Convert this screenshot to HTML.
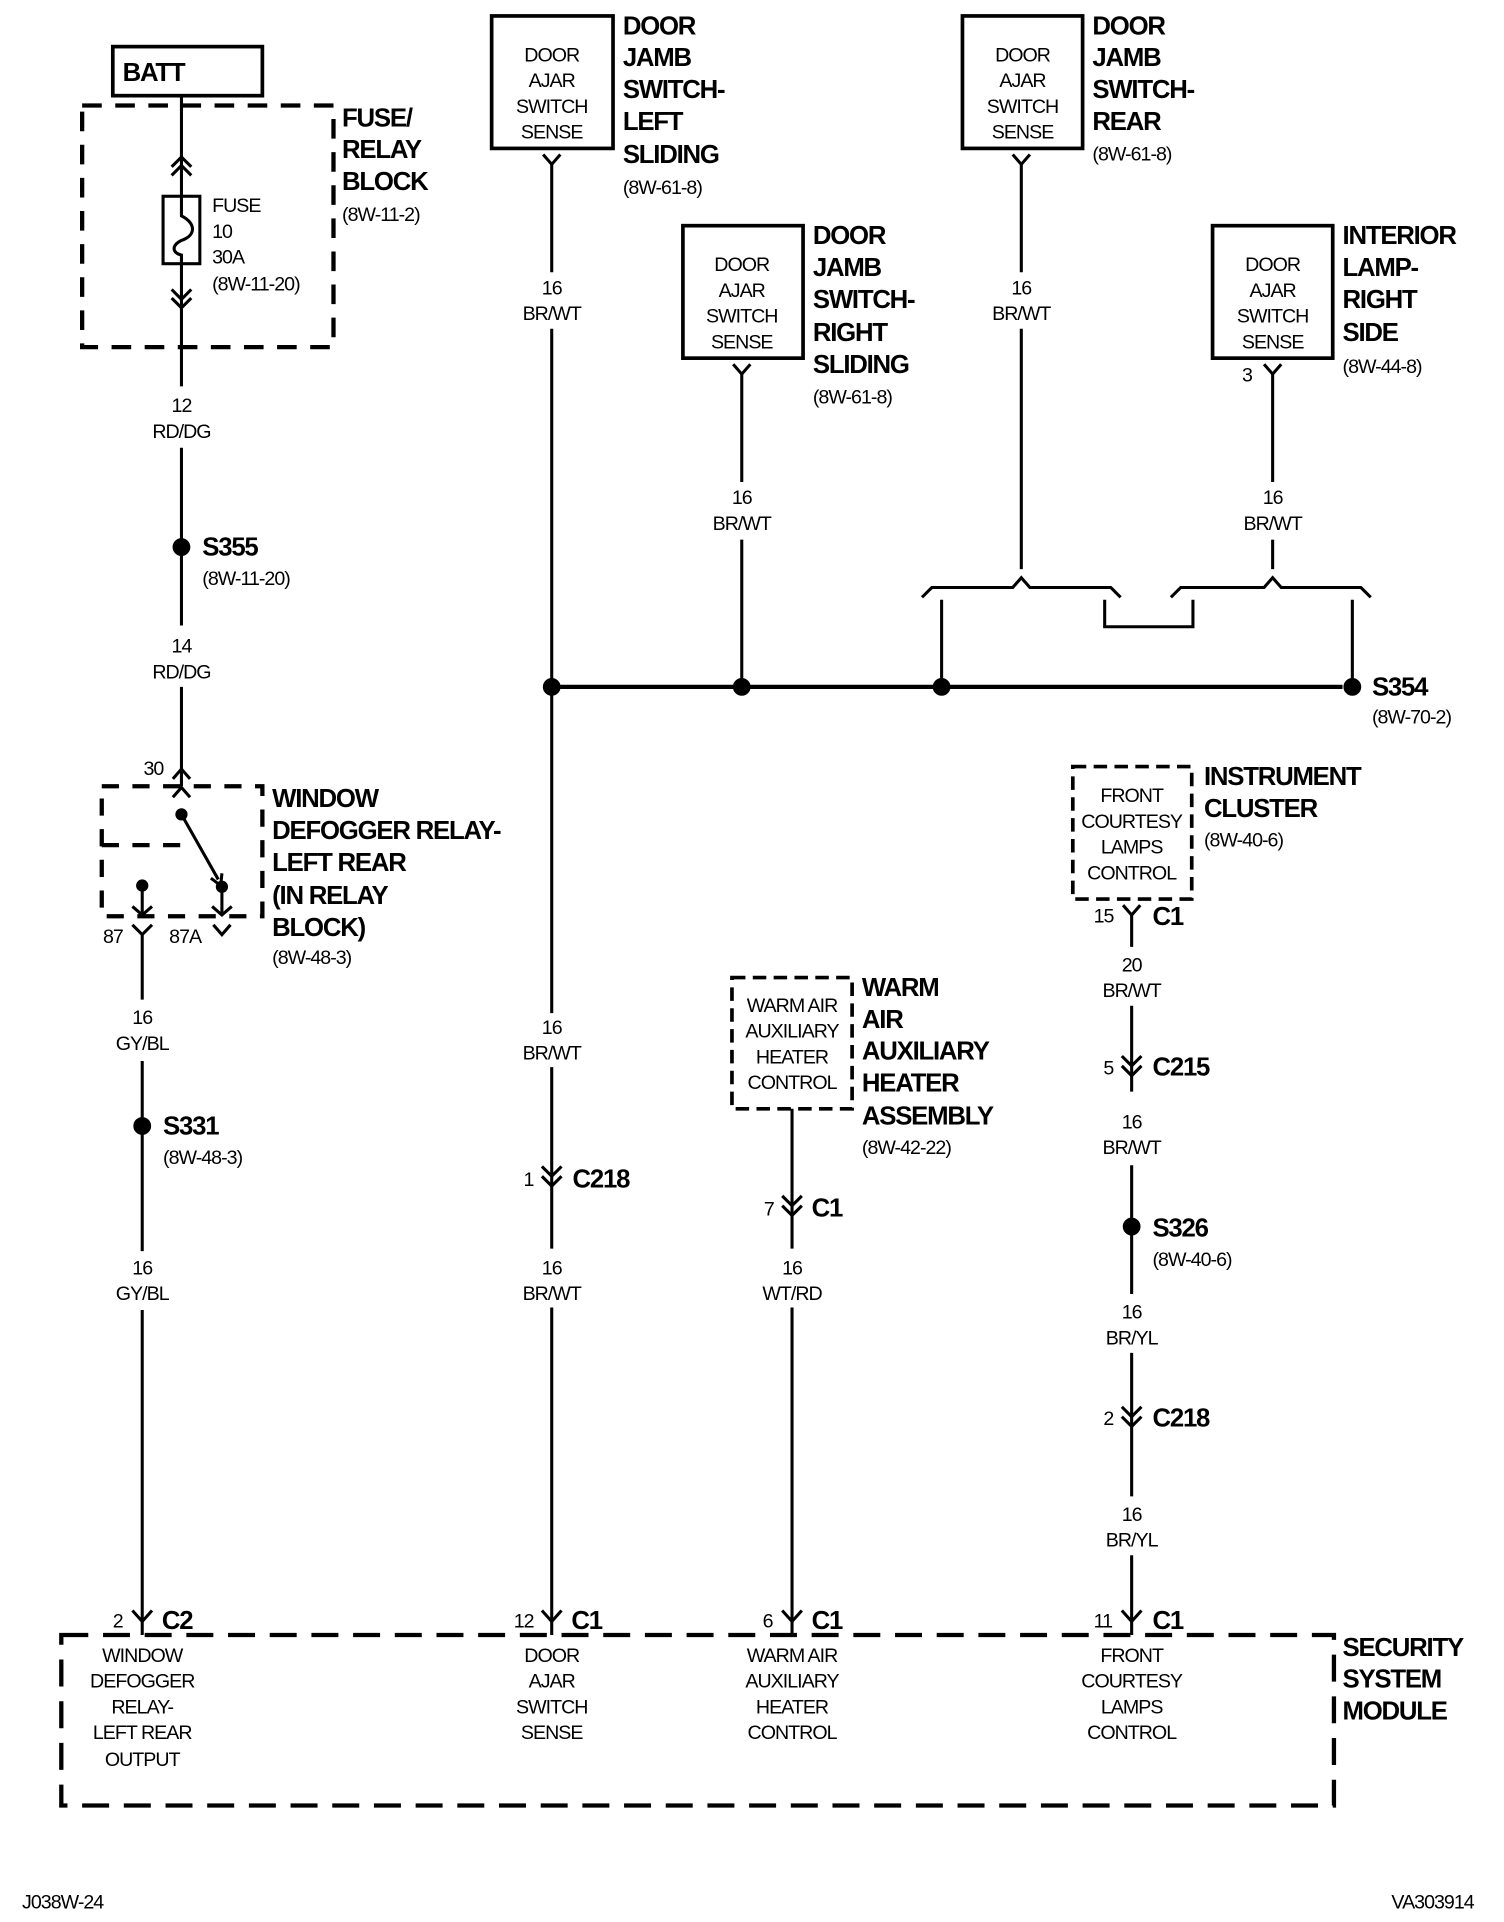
<!DOCTYPE html>
<html><head><meta charset="utf-8"><style>
html,body{margin:0;padding:0;background:#fff;}
svg{display:block;}
text{font-family:"Liberation Sans",sans-serif;fill:#000;}
.b{font-weight:bold;font-size:21px;letter-spacing:-1px;}
.s{font-size:16px;letter-spacing:-0.8px;}
.r{font-size:16px;letter-spacing:-0.8px;}
.c{text-anchor:middle;}
</style></head><body>
<svg width="1504" height="1922" viewBox="0 0 1226.7 1567" preserveAspectRatio="none" xmlns="http://www.w3.org/2000/svg">
<g stroke="#000" fill="none" stroke-width="2.5">
<rect x="92" y="38" width="122" height="40" stroke-width="3"/>
<rect x="67" y="86" width="205" height="197" stroke-width="3.5" stroke-dasharray="16,11"/>
<line x1="148" y1="78" x2="148" y2="315"/>
<polyline points="140,136 148,128 156,136"/><polyline points="140,143 148,135 156,143"/>
<polyline points="140,236 148,244 156,236"/><polyline points="140,243 148,251 156,243"/>
<rect x="133" y="160" width="30" height="55" fill="#fff"/>
<path d="M148,160 V176 C160,182 160,192 148,196 C140,200 140,206 148,208 V215"/>
<line x1="148" y1="365" x2="148" y2="510"/>
<circle cx="148" cy="446" r="6" fill="#000"/>
<line x1="148" y1="560" x2="148" y2="641"/>
<polyline points="141,635 148,627 155,635"/>
<polyline points="141,650 148,642 155,650"/>
<rect x="83" y="641" width="131" height="106" stroke-width="3.5" stroke-dasharray="14,11"/>
<line x1="83" y1="689" x2="148" y2="689" stroke-width="3.5" stroke-dasharray="14,11"/>
<circle cx="148" cy="664" r="5" fill="#000" stroke="none"/>
<line x1="148" y1="664" x2="178" y2="717"/>
<polyline points="172,716 180,722 181,712"/>
<circle cx="181" cy="723" r="5" fill="#000" stroke="none"/>
<circle cx="116" cy="722" r="5" fill="#000" stroke="none"/>
<line x1="116" y1="722" x2="116" y2="746"/><polyline points="108,739 116,746 124,739"/>
<line x1="181" y1="723" x2="181" y2="746"/><polyline points="173,739 181,746 189,739"/>
<polyline points="174,754 181,762 188,754"/>
<polyline points="108,754 116,762 124,754"/>
<line x1="116" y1="762" x2="116" y2="815"/>
<line x1="116" y1="865" x2="116" y2="1020"/>
<circle cx="116" cy="918" r="6" fill="#000"/>
<line x1="116" y1="1068" x2="116" y2="1333"/>
<polyline points="108,1313 116,1322 124,1313"/>
<rect x="401" y="13" width="99" height="108" stroke-width="3"/>
<polyline points="443,126 450,134 457,126"/>
<line x1="450" y1="134" x2="450" y2="222"/>
<line x1="450" y1="268" x2="450" y2="826"/>
<line x1="450" y1="870" x2="450" y2="1018"/>
<line x1="450" y1="1066" x2="450" y2="1333"/>
<polyline points="442,951 450,959 458,951"/><polyline points="442,959 450,967 458,959"/>
<polyline points="442,1313 450,1322 458,1313"/>
<rect x="557" y="184" width="98" height="108" stroke-width="3"/>
<polyline points="598,297 605,305 612,297"/>
<line x1="605" y1="305" x2="605" y2="393"/>
<line x1="605" y1="440" x2="605" y2="560"/>
<rect x="785" y="13" width="98" height="108" stroke-width="3"/>
<polyline points="826,126 833,134 840,126"/>
<line x1="833" y1="134" x2="833" y2="222"/>
<line x1="833" y1="268" x2="833" y2="464"/>
<rect x="989" y="184" width="98" height="108" stroke-width="3"/>
<polyline points="1031,297 1038,305 1045,297"/>
<line x1="1038" y1="305" x2="1038" y2="393"/>
<line x1="1038" y1="440" x2="1038" y2="464"/>
<polyline points="752,487 760,479 826,479 833,471 840,479 906,479 914,487"/>
<polyline points="955,487 963,479 1031,479 1038,471 1045,479 1110,479 1118,487"/>
<line x1="768" y1="489" x2="768" y2="553"/>
<polyline points="901,489 901,511 973,511 973,489"/>
<line x1="1103" y1="489" x2="1103" y2="553"/>
<line x1="450" y1="560" x2="1095" y2="560" stroke-width="3.5"/>
<circle cx="450" cy="560" r="6" fill="#000"/>
<circle cx="605" cy="560" r="6" fill="#000"/>
<circle cx="768" cy="560" r="6" fill="#000"/>
<circle cx="1103" cy="560" r="6" fill="#000"/>
<rect x="597" y="797" width="98" height="107" stroke-width="3" stroke-dasharray="11,6"/>
<line x1="646" y1="904" x2="646" y2="1018"/>
<polyline points="638,975 646,983 654,975"/><polyline points="638,983 646,991 654,983"/>
<line x1="646" y1="1066" x2="646" y2="1333"/>
<polyline points="638,1313 646,1322 654,1313"/>
<rect x="875" y="625" width="97" height="108" stroke-width="3" stroke-dasharray="11,6"/>
<polyline points="916,738 923,746 930,738"/>
<line x1="923" y1="746" x2="923" y2="772"/>
<line x1="923" y1="820" x2="923" y2="890"/>
<polyline points="915,861 923,869 931,861"/><polyline points="915,869 923,877 931,869"/>
<line x1="923" y1="950" x2="923" y2="1055"/>
<circle cx="923" cy="1000" r="6" fill="#000"/>
<line x1="923" y1="1103" x2="923" y2="1220"/>
<polyline points="915,1147 923,1155 931,1147"/><polyline points="915,1155 923,1163 931,1155"/>
<line x1="923" y1="1268" x2="923" y2="1333"/>
<polyline points="915,1313 923,1322 931,1313"/>
<rect x="50" y="1333" width="1038" height="139" stroke-width="3.5" stroke-dasharray="22,12"/>
</g>
<text x="100" y="66" class="b">BATT</text>
<text x="279" y="103" class="b">FUSE/</text>
<text x="279" y="129" class="b">RELAY</text>
<text x="279" y="155" class="b">BLOCK</text>
<text x="279" y="180" class="r">(8W-11-2)</text>
<text x="173" y="173" class="s">FUSE</text>
<text x="173" y="194" class="s">10</text>
<text x="173" y="215" class="s">30A</text>
<text x="173" y="237" class="s">(8W-11-20)</text>
<text x="148" y="336" class="s c">12</text>
<text x="148" y="357" class="s c">RD/DG</text>
<text x="165" y="453" class="b">S355</text>
<text x="165" y="477" class="r">(8W-11-20)</text>
<text x="148" y="532" class="s c">14</text>
<text x="148" y="553" class="s c">RD/DG</text>
<text x="117" y="632" class="s">30</text>
<text x="222" y="658" class="b">WINDOW</text>
<text x="222" y="684" class="b">DEFOGGER RELAY-</text>
<text x="222" y="710" class="b">LEFT REAR</text>
<text x="222" y="737" class="b">(IN RELAY</text>
<text x="222" y="763" class="b">BLOCK)</text>
<text x="222" y="786" class="r">(8W-48-3)</text>
<text x="84" y="769" class="s">87</text>
<text x="138" y="769" class="s">87A</text>
<text x="116" y="835" class="s c">16</text>
<text x="116" y="856" class="s c">GY/BL</text>
<text x="133" y="925" class="b">S331</text>
<text x="133" y="949" class="r">(8W-48-3)</text>
<text x="116" y="1039" class="s c">16</text>
<text x="116" y="1060" class="s c">GY/BL</text>
<text x="92" y="1327" class="s">2</text>
<text x="132" y="1328" class="b">C2</text>
<text x="450" y="50" class="s c">DOOR</text><text x="450" y="71" class="s c">AJAR</text><text x="450" y="92" class="s c">SWITCH</text><text x="450" y="113" class="s c">SENSE</text>
<text x="508" y="28" class="b">DOOR</text><text x="508" y="54" class="b">JAMB</text><text x="508" y="80" class="b">SWITCH-</text><text x="508" y="106" class="b">LEFT</text><text x="508" y="133" class="b">SLIDING</text><text x="508" y="158" class="r">(8W-61-8)</text>
<text x="450" y="240" class="s c">16</text><text x="450" y="261" class="s c">BR/WT</text>
<text x="450" y="843" class="s c">16</text><text x="450" y="864" class="s c">BR/WT</text>
<text x="427" y="967" class="s">1</text><text x="467" y="968" class="b">C218</text>
<text x="450" y="1039" class="s c">16</text><text x="450" y="1060" class="s c">BR/WT</text>
<text x="419" y="1327" class="s">12</text><text x="466" y="1328" class="b">C1</text>
<text x="605" y="221" class="s c">DOOR</text><text x="605" y="242" class="s c">AJAR</text><text x="605" y="263" class="s c">SWITCH</text><text x="605" y="284" class="s c">SENSE</text>
<text x="663" y="199" class="b">DOOR</text><text x="663" y="225" class="b">JAMB</text><text x="663" y="251" class="b">SWITCH-</text><text x="663" y="278" class="b">RIGHT</text><text x="663" y="304" class="b">SLIDING</text><text x="663" y="329" class="r">(8W-61-8)</text>
<text x="605" y="411" class="s c">16</text><text x="605" y="432" class="s c">BR/WT</text>
<text x="834" y="50" class="s c">DOOR</text><text x="834" y="71" class="s c">AJAR</text><text x="834" y="92" class="s c">SWITCH</text><text x="834" y="113" class="s c">SENSE</text>
<text x="891" y="28" class="b">DOOR</text><text x="891" y="54" class="b">JAMB</text><text x="891" y="80" class="b">SWITCH-</text><text x="891" y="106" class="b">REAR</text><text x="891" y="131" class="r">(8W-61-8)</text>
<text x="833" y="240" class="s c">16</text><text x="833" y="261" class="s c">BR/WT</text>
<text x="1038" y="221" class="s c">DOOR</text><text x="1038" y="242" class="s c">AJAR</text><text x="1038" y="263" class="s c">SWITCH</text><text x="1038" y="284" class="s c">SENSE</text>
<text x="1095" y="199" class="b">INTERIOR</text><text x="1095" y="225" class="b">LAMP-</text><text x="1095" y="251" class="b">RIGHT</text><text x="1095" y="278" class="b">SIDE</text><text x="1095" y="304" class="r">(8W-44-8)</text>
<text x="1013" y="311" class="s">3</text>
<text x="1038" y="411" class="s c">16</text><text x="1038" y="432" class="s c">BR/WT</text>
<text x="1119" y="567" class="b">S354</text><text x="1119" y="590" class="r">(8W-70-2)</text>
<text x="646" y="825" class="s c">WARM AIR</text><text x="646" y="846" class="s c">AUXILIARY</text><text x="646" y="867" class="s c">HEATER</text><text x="646" y="888" class="s c">CONTROL</text>
<text x="703" y="812" class="b">WARM</text><text x="703" y="838" class="b">AIR</text><text x="703" y="864" class="b">AUXILIARY</text><text x="703" y="890" class="b">HEATER</text><text x="703" y="917" class="b">ASSEMBLY</text><text x="703" y="941" class="r">(8W-42-22)</text>
<text x="623" y="991" class="s">7</text><text x="662" y="992" class="b">C1</text>
<text x="646" y="1039" class="s c">16</text><text x="646" y="1060" class="s c">WT/RD</text>
<text x="622" y="1327" class="s">6</text><text x="662" y="1328" class="b">C1</text>
<text x="923" y="654" class="s c">FRONT</text><text x="923" y="675" class="s c">COURTESY</text><text x="923" y="696" class="s c">LAMPS</text><text x="923" y="717" class="s c">CONTROL</text>
<text x="982" y="640" class="b">INSTRUMENT</text><text x="982" y="666" class="b">CLUSTER</text><text x="982" y="690" class="r">(8W-40-6)</text>
<text x="892" y="752" class="s">15</text><text x="940" y="754" class="b">C1</text>
<text x="923" y="792" class="s c">20</text><text x="923" y="813" class="s c">BR/WT</text>
<text x="900" y="876" class="s">5</text><text x="940" y="877" class="b">C215</text>
<text x="923" y="920" class="s c">16</text><text x="923" y="941" class="s c">BR/WT</text>
<text x="940" y="1008" class="b">S326</text><text x="940" y="1032" class="r">(8W-40-6)</text>
<text x="923" y="1075" class="s c">16</text><text x="923" y="1096" class="s c">BR/YL</text>
<text x="900" y="1162" class="s">2</text><text x="940" y="1163" class="b">C218</text>
<text x="923" y="1240" class="s c">16</text><text x="923" y="1261" class="s c">BR/YL</text>
<text x="892" y="1327" class="s">11</text><text x="940" y="1328" class="b">C1</text>
<text x="116" y="1355" class="s c">WINDOW</text><text x="116" y="1376" class="s c">DEFOGGER</text><text x="116" y="1397" class="s c">RELAY-</text><text x="116" y="1418" class="s c">LEFT REAR</text><text x="116" y="1440" class="s c">OUTPUT</text>
<text x="450" y="1355" class="s c">DOOR</text><text x="450" y="1376" class="s c">AJAR</text><text x="450" y="1397" class="s c">SWITCH</text><text x="450" y="1418" class="s c">SENSE</text>
<text x="646" y="1355" class="s c">WARM AIR</text><text x="646" y="1376" class="s c">AUXILIARY</text><text x="646" y="1397" class="s c">HEATER</text><text x="646" y="1418" class="s c">CONTROL</text>
<text x="923" y="1355" class="s c">FRONT</text><text x="923" y="1376" class="s c">COURTESY</text><text x="923" y="1397" class="s c">LAMPS</text><text x="923" y="1418" class="s c">CONTROL</text>
<text x="1095" y="1350" class="b">SECURITY</text><text x="1095" y="1376" class="b">SYSTEM</text><text x="1095" y="1402" class="b">MODULE</text>
<text x="18" y="1556" class="s">J038W-24</text>
<text x="1202" y="1556" class="s" text-anchor="end">VA303914</text>
</svg>
</body></html>
